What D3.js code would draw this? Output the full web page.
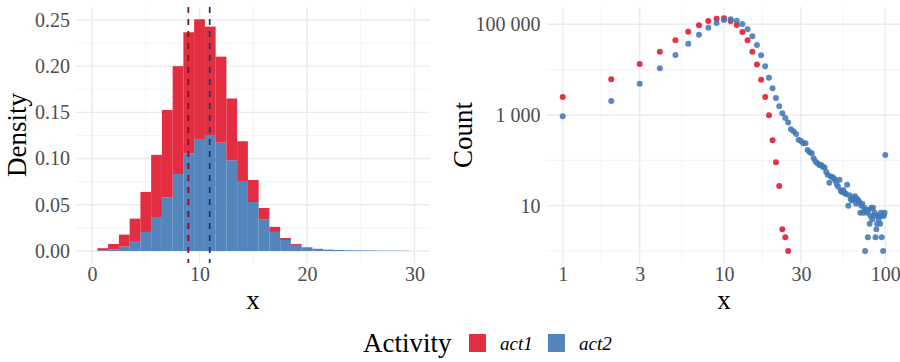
<!DOCTYPE html>
<head>
    <meta charset="utf-8">
    <title>Activity distributions</title>
    <style>
        body { margin: 0; background: #fff; }
        text { font-family: "Liberation Serif", "DejaVu Serif", serif; }
        .axis text { fill: #4d4d4d; font-size: 20px; font-family: "Liberation Serif", serif; }
        .axis .domain { display: none; }
        .grid-major { stroke: #ebebeb; stroke-width: 1.4; }
        .grid-minor { stroke: #f3f3f3; stroke-width: 0.9; }
        .title { fill: #000; font-size: 27px; }
    </style>
</head>
<body>

<svg width="900" height="362"></svg>

<script src="https://d3js.org/d3.v7.min.js"></script>
<script>

    // histogram bins (centre of each 1-wide bin) and densities
    var binCentres = [1, 2, 3, 4, 5, 6, 7, 8, 9, 10, 11, 12, 13, 14, 15,
                      16, 17, 18, 19, 20, 21, 22, 23, 24, 25, 26, 27, 28, 29, 30];
    var densAct1 = [0.0022, 0.0058, 0.013, 0.0242, 0.0433, 0.0672, 0.0945, 0.1167, 0.131, 0.1295,
                    0.1173, 0.0931, 0.0669, 0.0429, 0.0238, 0.0126, 0.0055, 0.0022, 0.001, 0.0003,
                    0.0001, 0, 0, 0, 0, 0, 0, 0, 0, 0];
    var densAct2 = [0.0008, 0.0018, 0.0047, 0.0108, 0.0206, 0.0368, 0.0581, 0.0833, 0.1057, 0.1212,
                    0.1255, 0.1172, 0.0981, 0.0758, 0.053, 0.0339, 0.0206, 0.0119, 0.0066, 0.0038,
                    0.0023, 0.0015, 0.0011, 0.0008, 0.0007, 0.0005, 0.0004, 0.0004, 0.0003, 0];
    // dashed reference lines (act1, act2)
    var refLines = [8.96, 10.95];

    // counts per value, right panel (log-log)
    var xAct1 = [1, 2, 3, 4, 5, 6, 7, 8, 9, 10, 11, 12, 13, 14, 15, 16, 17, 18, 19, 20, 21, 22, 23, 24, 25];
    var countAct1 = [2495, 6120, 13300, 24900, 44400, 68700, 95000, 118000, 133000, 135000,
                     118000, 96600, 67600, 44400, 24900, 12900, 6000, 2495, 985, 277,
                     91, 27, 3, 2, 1];
    var xAct2 = [1, 2, 3, 4, 5, 6, 7, 8, 9, 10, 11, 12, 13, 14, 15, 16, 17, 18, 19, 20,
                 21, 22, 23, 24, 25, 26, 27, 28, 29, 30, 31, 32, 33, 34, 35, 36, 37, 38, 39, 40,
                 41, 42, 43, 44, 45, 46, 47, 48, 49, 50, 51, 52, 53, 54, 55, 56, 57, 58, 59, 60,
                 61, 62, 63, 64, 65, 66, 67, 68, 69, 70, 71, 72, 73, 74, 75, 76, 77, 78, 79, 80,
                 81, 82, 83, 84, 85, 86, 87, 88, 89, 90, 91, 92, 93, 94, 95, 96, 97, 98, 99, 100];
    var countAct2 = [936, 2037, 4900, 10700, 21000, 37300, 59000, 84100, 107000, 124000,
                     129000, 120000, 101600, 77600, 54300, 35000, 20700, 11900, 6640, 3880,
                     2370, 1560, 1090, 860, 680, 484, 437, 381, 285, 265,
                     238, 236, 169, 150, 143, 110, 93, 86, 79, 79,
                     72, 69, 55, 48, 32, 44, 42, 40, 36, 30,
                     26, 37, 21, 20, 22, 19, 18, 29, 10, 17,
                     14, 13, 15, 14, 16, 11, 14, 13, 12, 7,
                     10, 11, 7, 9, 1, 8, 7, 2, 8, 4,
                     6, 9, 5, 9, 6, 7, 2, 3, 4, 6,
                     5, 6, 4, 7, 2, 6, 1, 6, 7, 130];

    var groups = ["act1", "act2"];
    var fillColor = {act1: "#df172b", act2: "#4179b6"};
    var lineColor = {act1: "#8b0f1c", act2: "#1c3d66"};

    var svg = d3.select("svg");

    // ---------- left panel: stacked density histogram ----------
    var xh = d3.scaleLinear().domain([-1.49, 31.44]).range([76, 430]);
    var yh = d3.scaleLinear().domain([-0.013, 0.264]).range([263, 7]);

    var left = svg.append("g");

    left.selectAll(".vminor").data([5, 15, 25]).enter().append("line")
        .attr("class", "grid-minor")
        .attr("x1", xh).attr("x2", xh).attr("y1", 7).attr("y2", 263);
    left.selectAll(".hminor").data([0.025, 0.075, 0.125, 0.175, 0.225]).enter().append("line")
        .attr("class", "grid-minor")
        .attr("x1", 76).attr("x2", 430).attr("y1", yh).attr("y2", yh);
    left.selectAll(".vmajor").data([0, 10, 20, 30]).enter().append("line")
        .attr("class", "grid-major")
        .attr("x1", xh).attr("x2", xh).attr("y1", 7).attr("y2", 263);
    left.selectAll(".hmajor").data([0, 0.05, 0.1, 0.15, 0.2, 0.25]).enter().append("line")
        .attr("class", "grid-major")
        .attr("x1", 76).attr("x2", 430).attr("y1", yh).attr("y2", yh);

    var table = binCentres.map(function (c, i) {
        return {x: c, act1: densAct1[i], act2: densAct2[i]};
    });
    var stacked = d3.stack().keys(["act2", "act1"])(table);

    left.selectAll(".layer")
        .data(stacked)
        .enter().append("g")
        .attr("fill", function (d) { return fillColor[d.key]; })
        .attr("fill-opacity", 0.9)
        .selectAll("rect")
        .data(function (d) { return d; })
        .enter().append("rect")
        .attr("x", function (d) { return xh(d.data.x - 0.5); })
        .attr("width", function (d) { return xh(d.data.x + 0.5) - xh(d.data.x - 0.5); })
        .attr("y", function (d) { return yh(d[1]); })
        .attr("height", function (d) { return Math.max(0, yh(d[0]) - yh(d[1])); });

    left.selectAll(".ref")
        .data(refLines)
        .enter().append("line")
        .attr("x1", xh).attr("x2", xh)
        .attr("y1", 7).attr("y2", 263)
        .attr("stroke", function (d, i) { return lineColor[groups[i]]; })
        .attr("stroke-width", 1.8)
        .attr("stroke-dasharray", "6,6");

    left.append("g")
        .attr("class", "axis")
        .attr("transform", "translate(0,263)")
        .call(d3.axisBottom(xh).tickValues([0, 10, 20, 30]).tickSize(0).tickPadding(4));
    left.append("g")
        .attr("class", "axis")
        .attr("transform", "translate(76,0)")
        .call(d3.axisLeft(yh).tickValues([0, 0.05, 0.1, 0.15, 0.2, 0.25])
            .tickFormat(d3.format(".2f")).tickSize(0).tickPadding(6));

    left.append("text").attr("class", "title")
        .attr("x", 253).attr("y", 309).attr("font-size", "26px")
        .attr("text-anchor", "middle").text("x");
    left.append("text").attr("class", "title")
        .attr("transform", "translate(26,135) rotate(-90)")
        .attr("text-anchor", "middle").text("Density");

    // ---------- right panel: log-log counts ----------
    var xl = d3.scaleLog().domain([Math.pow(10, -0.1), Math.pow(10, 2.1)]).range([546.6, 901.4]);
    var yl = d3.scaleLog().domain([Math.pow(10, -0.2565), Math.pow(10, 5.387)]).range([262.6, 6.7]);

    var right = svg.append("g");

    right.selectAll(".vminor").data([Math.sqrt(3), Math.sqrt(30), Math.sqrt(300), Math.sqrt(3000)]).enter().append("line")
        .attr("class", "grid-minor")
        .attr("x1", xl).attr("x2", xl).attr("y1", 7).attr("y2", 263);
    right.selectAll(".hminor").data([1, 100, 10000]).enter().append("line")
        .attr("class", "grid-minor")
        .attr("x1", 546.6).attr("x2", 900).attr("y1", yl).attr("y2", yl);
    right.selectAll(".vmajor").data([1, 3, 10, 30, 100]).enter().append("line")
        .attr("class", "grid-major")
        .attr("x1", xl).attr("x2", xl).attr("y1", 7).attr("y2", 263);
    right.selectAll(".hmajor").data([10, 1000, 100000]).enter().append("line")
        .attr("class", "grid-major")
        .attr("x1", 546.6).attr("x2", 900).attr("y1", yl).attr("y2", yl);

    var pts1 = xAct1.map(function (x, i) { return {x: x, n: countAct1[i], g: "act1"}; });
    var pts2 = xAct2.map(function (x, i) { return {x: x, n: countAct2[i], g: "act2"}; });

    right.selectAll(".pt")
        .data(pts1.concat(pts2))
        .enter().append("circle")
        .attr("cx", function (d) { return xl(d.x); })
        .attr("cy", function (d) { return yl(d.n); })
        .attr("r", 3)
        .attr("fill", function (d) { return fillColor[d.g]; })
        .attr("fill-opacity", 0.88);

    var spaced = d3.formatLocale({decimal: ".", thousands: " ", grouping: [3], currency: ["", ""]});

    right.append("g")
        .attr("class", "axis")
        .attr("transform", "translate(0,263)")
        .call(d3.axisBottom(xl).tickValues([1, 3, 10, 30, 100])
            .tickFormat(d3.format("d")).tickSize(0).tickPadding(4));
    right.append("g")
        .attr("class", "axis")
        .attr("transform", "translate(546.6,0)")
        .call(d3.axisLeft(yl).tickValues([10, 1000, 100000])
            .tickFormat(spaced.format(",")).tickSize(0).tickPadding(6));

    right.append("text").attr("class", "title")
        .attr("x", 724).attr("y", 309).attr("font-size", "26px")
        .attr("text-anchor", "middle").text("x");
    right.append("text").attr("class", "title")
        .attr("transform", "translate(472,135) rotate(-90)")
        .attr("text-anchor", "middle").text("Count");

    // ---------- legend ----------
    var legend = svg.append("g");
    legend.append("text").attr("class", "title")
        .attr("x", 363).attr("y", 352).text("Activity");

    var keyX = {act1: 469, act2: 548};
    var item = legend.selectAll(".item")
        .data(groups)
        .enter().append("g")
        .attr("transform", function (d) { return "translate(" + keyX[d] + ",334)"; });
    item.append("rect")
        .attr("width", 17).attr("height", 18)
        .attr("fill", function (d) { return fillColor[d]; })
        .attr("fill-opacity", 0.9);
    item.append("text")
        .attr("x", 31).attr("y", 16)
        .attr("font-size", "19px").attr("font-style", "italic")
        .attr("fill", "#000")
        .text(function (d) { return d; });

</script>

</body>
